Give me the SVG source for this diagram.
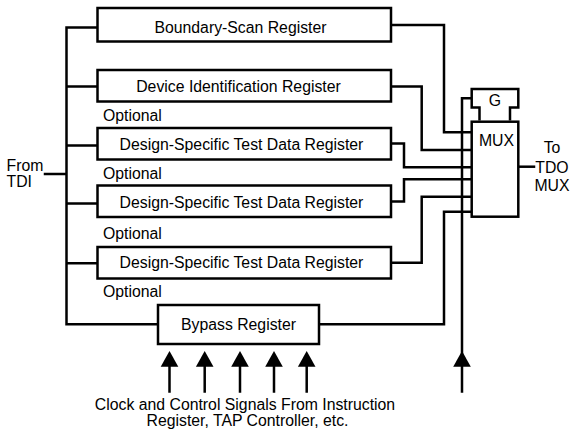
<svg xmlns="http://www.w3.org/2000/svg" width="575" height="429" viewBox="0 0 575 429">
<defs>
<style>
.ln{fill:none;stroke:#000;stroke-width:2.5;stroke-linejoin:miter;stroke-linecap:square}
.bx{fill:#fff;stroke:#000;stroke-width:2.5}
.t{font-family:"Liberation Sans",Arial,sans-serif;font-size:15.8px;fill:#000}
.c{text-anchor:middle}
.ah{fill:#000;stroke:none}
</style>
</defs>
<rect width="575" height="429" fill="#fff"/>
<g id="connectors">
<path class="ln" d="M45,174 H66.5 M66.5,27.5 V324.3 H158 M66.5,27.5 H97.5 M66.5,86.5 H97.5 M66.5,145.5 H97.5 M66.5,203.5 H97.5 M66.5,263.3 H97.5"/>
<path class="ln" d="M391,25 H444 V132.3 H471.7"/>
<path class="ln" d="M391,86.5 H421.7 V150 H471.7"/>
<path class="ln" d="M391,143.5 H404 V167.3 H471.7"/>
<path class="ln" d="M391,201.5 H404 V179.3 H471.7"/>
<path class="ln" d="M391,262.7 H421.7 V196.7 H471.7"/>
<path class="ln" d="M319,324.3 H444 V211.7 H471.7"/>
<path class="ln" d="M471.7,98.3 H462 V391.5"/>
<path class="ln" d="M518.3,166.7 H534"/>
<path class="ln" d="M169.5,366 V391.5 M204.7,366 V391.5 M240,366 V391.5 M274,366 V391.5 M306.7,366 V391.5"/>
<polygon class="ah" points="169.5,351 160.7,366.7 178.3,366.7"/>
<polygon class="ah" points="204.7,351 195.9,366.7 213.5,366.7"/>
<polygon class="ah" points="240,351 231.2,366.7 248.8,366.7"/>
<polygon class="ah" points="274,351 265.2,366.7 282.8,366.7"/>
<polygon class="ah" points="306.7,351 297.9,366.7 315.5,366.7"/>
<polygon class="ah" points="462,351 453.2,366.7 470.8,366.7"/>
</g>
<g id="boundary-scan">
<rect class="bx" x="97.5" y="8" width="293.5" height="33.5"/>
<text class="t c" x="240.5" y="32.5">Boundary-Scan Register</text>
</g>
<g id="device-id">
<rect class="bx" x="97.5" y="70" width="293.5" height="31.5"/>
<text class="t c" x="238.5" y="91.5">Device Identification Register</text>
</g>
<g id="ds1">
<text class="t" x="103" y="120.5">Optional</text>
<rect class="bx" x="97.5" y="128" width="293.5" height="31.5"/>
<text class="t c" x="241.5" y="149.5">Design-Specific Test Data Register</text>
</g>
<g id="ds2">
<text class="t" x="103" y="178.5">Optional</text>
<rect class="bx" x="97.5" y="185.5" width="293.5" height="31.5"/>
<text class="t c" x="241.5" y="207.5">Design-Specific Test Data Register</text>
</g>
<g id="ds3">
<text class="t" x="103" y="238.5">Optional</text>
<rect class="bx" x="97.5" y="247" width="293.5" height="31.5"/>
<text class="t c" x="241.5" y="268">Design-Specific Test Data Register</text>
</g>
<g id="bypass">
<text class="t" x="103" y="297">Optional</text>
<rect class="bx" x="158" y="305" width="161" height="39"/>
<text class="t c" x="238.5" y="329.5">Bypass Register</text>
</g>
<g id="mux">
<path class="bx" d="M479.5,120.5 V107.5 H471.7 V89 H518.3 V107.5 H510 V120.5"/>
<text class="t c" x="495" y="105.5">G</text>
<rect class="bx" x="471.7" y="121.7" width="46.6" height="95"/>
<text class="t c" x="496.5" y="146">MUX</text>
</g>
<g id="labels">
<text class="t" x="6.5" y="170.5">From</text>
<text class="t" x="6.5" y="187">TDI</text>
<text class="t c" x="552" y="153">To</text>
<text class="t c" x="552" y="173">TDO</text>
<text class="t c" x="552" y="190.5">MUX</text>
<text class="t c" x="245" y="410">Clock and Control Signals From Instruction</text>
<text class="t c" x="247.5" y="426">Register, TAP Controller, etc.</text>
</g>
</svg>
